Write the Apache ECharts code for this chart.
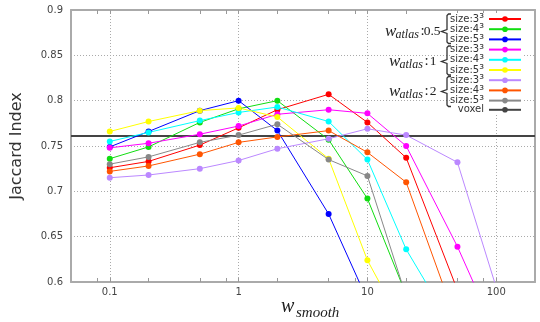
<!DOCTYPE html>
<html><head><meta charset="utf-8">
<script src="https://cdn.jsdelivr.net/npm/echarts@6/dist/echarts.min.js"></script>
<style>html,body{margin:0;padding:0;background:#fff}#c{width:540px;height:322px}</style>
</head><body><div id="c"></div>
<script>
// x positions (w_smooth)
var wSmooth = [0.1, 0.2, 0.5, 1, 2, 5, 10, 20, 50, 100];
// Jaccard index per series (null = not drawn / off chart)
var atlas05_size3 = [0.726, 0.733, 0.751, 0.770, 0.790, 0.807, 0.776, 0.737, 0.591, null];
var atlas05_size4 = [0.736, 0.749, 0.776, 0.791, 0.800, 0.757, 0.692, 0.586, null, null];
var atlas05_size5 = [0.749, 0.766, 0.789, 0.800, 0.767, 0.675, 0.580, null, null, null];
var atlas1_size3  = [0.748, 0.753, 0.763, 0.772, 0.785, 0.790, 0.786, 0.750, 0.639, 0.543];
var atlas1_size4  = [0.755, 0.765, 0.778, 0.787, 0.793, 0.777, 0.735, 0.636, 0.541, null];
var atlas1_size5  = [0.766, 0.777, 0.789, 0.792, 0.782, 0.736, 0.624, 0.545, null, null];
var atlas2_size3  = [0.715, 0.718, 0.725, 0.734, 0.747, 0.758, 0.769, 0.762, 0.732, 0.594];
var atlas2_size4  = [0.722, 0.728, 0.741, 0.754, 0.760, 0.767, 0.743, 0.710, 0.553, null];
var atlas2_size5  = [0.730, 0.738, 0.754, 0.762, 0.774, 0.735, 0.717, 0.584, null, null];
var voxelValue = 0.761;
var xRange = [0.05, 200];
var xLabelValues = [0.1, 1, 10, 100];
var xMinorTicks = [0.08, 0.1, 0.2, 0.5, 0.8, 1, 2, 5, 8, 10, 20, 50, 80, 100];
var legendSizes = ['3', '4', '5', '3', '4', '5', '3', '4', '5'];
var atlasLabels = ['0.5', '1', '2'];

var seriesDefs = [
  {id: 'a05s3', vals: atlas05_size3, color: '#ff0000'},
  {id: 'a05s4', vals: atlas05_size4, color: '#11dd11'},
  {id: 'a05s5', vals: atlas05_size5, color: '#0000ff'},
  {id: 'a1s3',  vals: atlas1_size3,  color: '#ff00ff'},
  {id: 'a1s4',  vals: atlas1_size4,  color: '#00ffff'},
  {id: 'a1s5',  vals: atlas1_size5,  color: '#ffff00'},
  {id: 'a2s3',  vals: atlas2_size3,  color: '#bb88ff'},
  {id: 'a2s4',  vals: atlas2_size4,  color: '#ff5500'},
  {id: 'a2s5',  vals: atlas2_size5,  color: '#888888'}
];

var labelMap = {};
seriesDefs.forEach(function (d, i) { labelMap[d.id] = '{t|size:' + legendSizes[i] + '}{s|³}'; });
labelMap['voxel'] = '{t|voxel}';

var series = seriesDefs.map(function (d) {
  var data = [];
  wSmooth.forEach(function (x, i) { if (d.vals[i] !== null) data.push([x, d.vals[i]]); });
  return {
    name: d.id, type: 'line', data: data, xAxisIndex: 0, yAxisIndex: 0,
    symbol: 'circle', symbolSize: 6, clip: true,
    lineStyle: {width: 1, color: d.color}, itemStyle: {color: d.color},
    emphasis: {disabled: true}, z: 3, animation: false
  };
});
series.push({
  name: 'voxel', type: 'line', symbol: 'none', data: [[xRange[0], voxelValue], [xRange[1], voxelValue]],
  lineStyle: {width: 2, color: '#444'}, itemStyle: {color: '#444'}, z: 2, animation: false
});

var tickFont = {fontFamily: 'DejaVu Sans', fontSize: 10, color: '#444'};
var dotted = {show: true, lineStyle: {type: [1, 2], color: '#aaa', width: 1}};

function txt(x, y, text, font, align) {
  return {type: 'text', z: 10, x: x, y: y, style: {text: text, font: font, fill: '#222', align: align, verticalAlign: 'middle', textAlign: align, textVerticalAlign: 'middle'}};
}
function braceGraphic(top, mid, bot) {
  return {type: 'polyline', z: 10, shape: {points: [[451, top], [448.5, top], [447, top + 1.5], [447, mid - 2], [441.5, mid], [447, mid + 2], [447, bot - 1.5], [448.5, bot], [451, bot]]},
    style: {stroke: '#333', lineWidth: 1.3, fill: null}};
}
var graphics = [];
var atlasY = [31.5, 61.5, 91.5];
var wX = [385, 389, 389];
var braceBox = [[14, 31.5, 43.5], [46, 61.5, 75], [76.5, 91.5, 106.5]];
atlasLabels.forEach(function (lab, i) {
  var y = atlasY[i], x0 = wX[i];
  graphics.push(txt(x0, y, 'w', 'italic 17px "Liberation Serif"', 'left'));
  graphics.push(txt(x0 + 10.5, y + 3, 'atlas', 'italic 12px "Liberation Serif"', 'left'));
  graphics.push(txt(x0 + 35.5, y, ':', '15px "Liberation Serif"', 'left'));
  graphics.push(txt(i === 0 ? 440.5 : 436.5, y, lab, '13.5px "Liberation Serif"', 'right'));
  graphics.push(braceGraphic(braceBox[i][0], braceBox[i][1], braceBox[i][2]));
});
// x axis title
graphics.push(txt(281, 307, 'w', 'italic 20px "Liberation Serif"', 'left'));
graphics.push(txt(296, 313, 'smooth', 'italic 15px "Liberation Serif"', 'left'));

var chart = echarts.init(document.getElementById('c'), null, {renderer: 'canvas'});
chart.setOption({
  animation: false,
  backgroundColor: '#fff',
  grid: {left: 71, right: 5, top: 10, bottom: 40, containLabel: false},
  xAxis: [
    {type: 'log', logBase: 10, min: xRange[0], max: xRange[1], position: 'bottom',
     axisLine: {show: true, onZero: false, lineStyle: {color: '#aaa', width: 2}},
     axisTick: {show: false, customValues: xLabelValues},
     axisLabel: Object.assign({customValues: xLabelValues, margin: 5, formatter: function (v) { return String(v); }}, tickFont),
     splitLine: dotted},
    {type: 'log', logBase: 10, min: xRange[0], max: xRange[1], position: 'bottom',
     axisLine: {show: false}, axisLabel: {show: false}, splitLine: {show: false},
     axisTick: {show: true, inside: true, length: 4, customValues: xMinorTicks, lineStyle: {color: '#999'}}},
    {type: 'log', logBase: 10, min: xRange[0], max: xRange[1], position: 'top',
     axisLine: {show: true, onZero: false, lineStyle: {color: '#aaa', width: 2}}, axisLabel: {show: false}, splitLine: {show: false},
     axisTick: {show: true, inside: true, length: 4, customValues: xMinorTicks, lineStyle: {color: '#999'}}}
  ],
  yAxis: [
    {type: 'value', min: 0.6, max: 0.9, interval: 0.05, position: 'left',
     name: 'Jaccard Index', nameLocation: 'middle', nameGap: 46, nameRotate: 90,
     nameTextStyle: {fontFamily: 'DejaVu Sans', fontSize: 16, color: '#333'},
     axisLine: {show: true, onZero: false, lineStyle: {color: '#aaa', width: 2}},
     axisTick: {show: false},
     axisLabel: Object.assign({margin: 8, formatter: function (v) { return String(Math.round(v * 100) / 100); }}, tickFont),
     splitLine: dotted},
    {type: 'value', min: 0.6, max: 0.9, interval: 0.05, position: 'right',
     axisLine: {show: true, onZero: false, lineStyle: {color: '#aaa', width: 2}},
     axisTick: {show: false}, axisLabel: {show: false}, splitLine: {show: false}}
  ],
  legend: {
    orient: 'vertical', right: 18, top: 13, padding: 0, align: 'right',
    itemWidth: 32, itemHeight: 7, itemGap: -1.8, backgroundColor: '#fff',
    data: seriesDefs.map(function (d) { return d.id; }).concat(['voxel']),
    lineStyle: {width: 2},
    formatter: function (n) { return labelMap[n]; },
    textStyle: {
      color: '#333', lineHeight: 10,
      rich: {
        t: {fontFamily: 'DejaVu Sans', fontSize: 10, color: '#333', lineHeight: 10},
        s: {fontFamily: 'DejaVu Sans', fontSize: 12, color: '#333', lineHeight: 10}
      }
    }
  },
  graphic: graphics,
  series: series
});
</script></body></html>
